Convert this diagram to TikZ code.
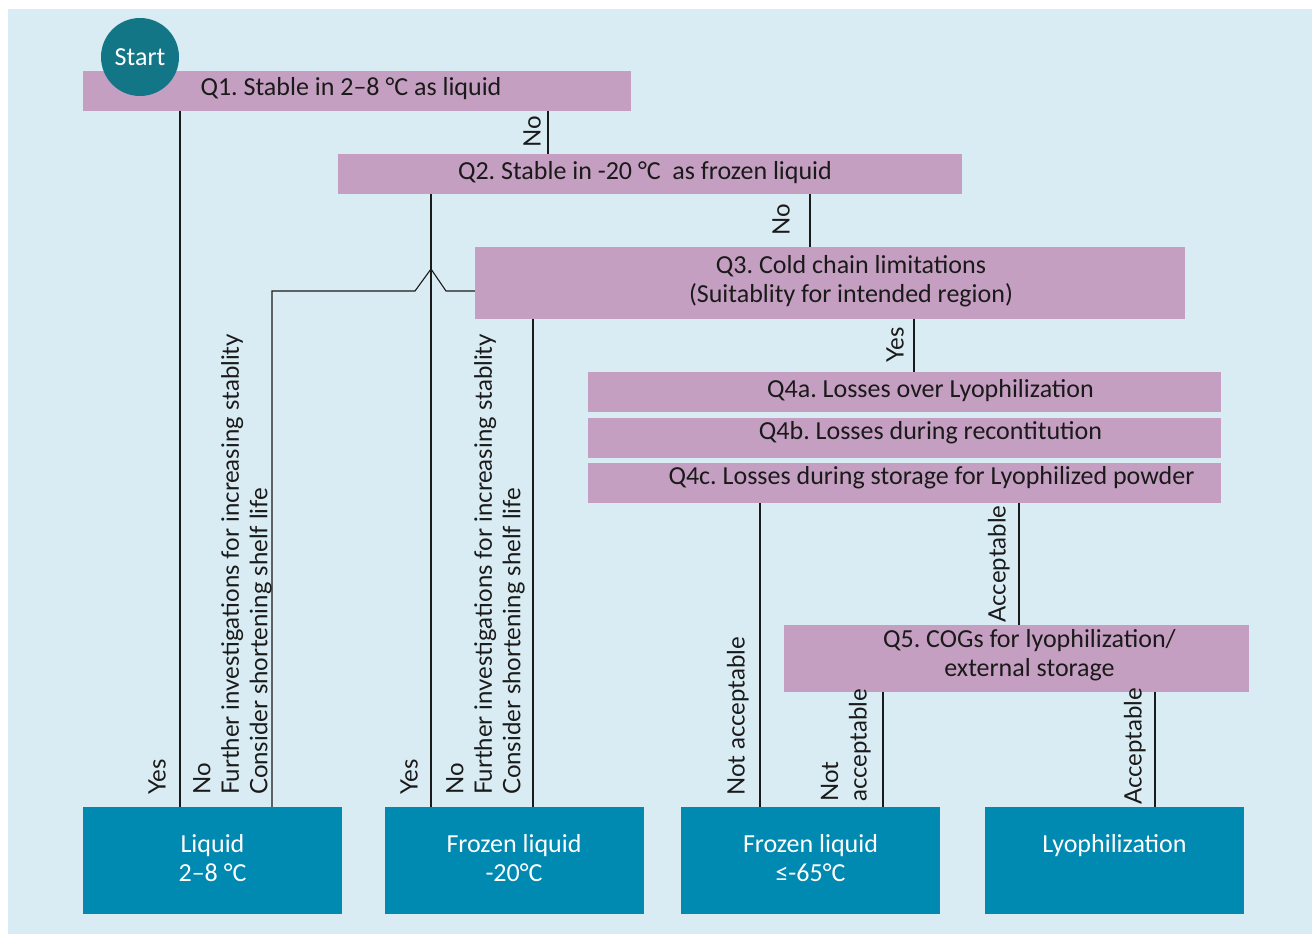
\documentclass[tikz,border=0pt]{standalone}
\usepackage{fontspec}
\setmainfont{Carlito}
\newfontfamily\lbfont{Lato}
\usetikzlibrary{calc}
\frenchspacing
\definecolor{bgc}{HTML}{DAECF3}
\definecolor{qpink}{HTML}{C59FC1}
\definecolor{outc}{HTML}{0089B1}
\definecolor{startc}{HTML}{137686}
\definecolor{ink}{HTML}{1A1A1A}
\tikzset{
  qbox/.style={rectangle, fill=qpink, inner sep=0pt},
  qtext/.style={text=ink, font=\fontsize{26}{29}\selectfont, align=center, inner sep=0pt},
  obox/.style={rectangle, fill=outc, inner sep=0pt, minimum width=259, minimum height=107},
  otext/.style={text=white, font=\fontsize{26}{29}\selectfont, align=center, inner sep=0pt, anchor=north},
  lbl/.style={rotate=90, text=ink, font=\lbfont\fontsize{24}{28.5}\selectfont, inner sep=1pt, align=left},
  conn/.style={draw=ink, line width=1.1pt},
}
\begin{document}
\begin{tikzpicture}[x=1pt,y=-1pt]
\useasboundingbox (0,0) rectangle (1312,934);
\fill[bgc] (8,9) rectangle (1312,934);

% question boxes
\node[qbox, minimum width=548, minimum height=40,
  label={[qtext, xshift=-6pt, yshift=2pt]center:{Q1. Stable in 2--8 °C as liquid}}] (q1) at (357,91) {};
\node[qbox, minimum width=624, minimum height=40,
  label={[qtext, xshift=-5pt, yshift=1pt]center:{Q2. Stable in -20 °C\ \ as frozen liquid}}] (q2) at (650,174) {};
\node[qbox, minimum width=710, minimum height=72,
  label={[qtext, xshift=21pt, yshift=2pt]center:{Q3. Cold chain limitations\\(Suitablity for intended region)}}] (q3) at (830,283) {};
\node[qbox, minimum width=633, minimum height=40,
  label={[qtext, xshift=26pt, yshift=1pt]center:{Q4a. Losses over Lyophilization}}] (q4a) at (904.5,392) {};
\node[qbox, minimum width=633, minimum height=40,
  label={[qtext, xshift=26pt, yshift=5pt]center:{Q4b. Losses during recontitution}}] (q4b) at (904.5,438) {};
\node[qbox, minimum width=633, minimum height=40,
  label={[qtext, xshift=27pt, yshift=5pt]center:{Q4c. Losses during storage for Lyophilized powder}}] (q4c) at (904.5,483) {};
\node[qbox, minimum width=465, minimum height=67,
  label={[qtext, xshift=13pt, yshift=3pt]center:{Q5. COGs for lyophilization/\\external storage}}] (q5) at (1016.5,658.5) {};

% start
\node[circle, fill=startc, minimum size=78, inner sep=0pt, text=white,
  font=\fontsize{26}{29}\selectfont] (start) at (140,57) {Start};

% outcome boxes
\node[obox, label={[otext, yshift=-27pt]north:{Liquid\\2--8 °C}}] (liq) at (212.5,860.5) {};
\node[obox, label={[otext, yshift=-27pt]north:{Frozen liquid\\-20°C}}] (fz20) at (514,860.5) {};
\node[obox, label={[otext, yshift=-27pt]north:{Frozen liquid\\≤-65°C}}] (fz65) at (810.5,860.5) {};
\node[obox, label={[otext, yshift=-27pt]north:{Lyophilization}}] (lyo) at (1114.5,860.5) {};

% connectors
\draw[conn] (q1.south -| 180,0) -- (liq.north -| 180,0);
\draw[conn] (q1.south -| 548,0) -- (q2.north -| 548,0);
\draw[conn] (q2.south -| 431,0) -- (fz20.north -| 431,0);
\draw[conn] (q2.south -| 810,0) -- (q3.north -| 810,0);
\coordinate (b1) at (446,291);
\coordinate (bt) at (431,269);
\coordinate (b2) at (415,291);
\coordinate (b3) at (272,291);
\draw[conn] ([yshift=-8pt]q3.west) -- (b1) -- (bt) -- (b2) -- (b3) -- (liq.north -| b3);
\draw[conn] (q3.south -| 533,0) -- (fz20.north -| 533,0);
\draw[conn] (q3.south -| 914,0) -- (q4a.north -| 914,0);
\draw[conn] (q4c.south -| 760,0) -- (fz65.north -| 760,0);
\draw[conn] (q4c.south -| 1019,0) -- (q5.north -| 1019,0);
\draw[conn] (q5.south -| 883,0) -- (fz65.north -| 883,0);
\draw[conn] (q5.south -| 1155,0) -- (lyo.north -| 1155,0);

% labels on short connectors
\node[lbl, anchor=south] (lno1) at (542,132) {No};
\node[lbl, anchor=south] (lno2) at (791,220) {No};
\node[lbl, anchor=south] (lyes3) at (905,345) {Yes};
\node[lbl, anchor=south] (lac1) at (1011,564) {Acceptable};

% vertical labels on long lines
\node[lbl, anchor=south west] (ly1) at (167,796) {Yes};
\node[lbl, anchor=south west] (ln1) at (273,796) {No\\Further investigations for increasing stablity\\Consider shortening shelf life};
\node[lbl, anchor=south west] (ly2) at (419,796) {Yes};
\node[lbl, anchor=south west] (ln2) at (526,796) {No\\Further investigations for increasing stablity\\Consider shortening shelf life};
\node[lbl, anchor=south west] (lna1) at (750,797) {Not acceptable};
\node[lbl, anchor=south west] (lna2) at (872,803) {Not\\acceptable};
\node[lbl, anchor=south west] (lac2) at (1147,806) {Acceptable};
\end{tikzpicture}
\end{document}
